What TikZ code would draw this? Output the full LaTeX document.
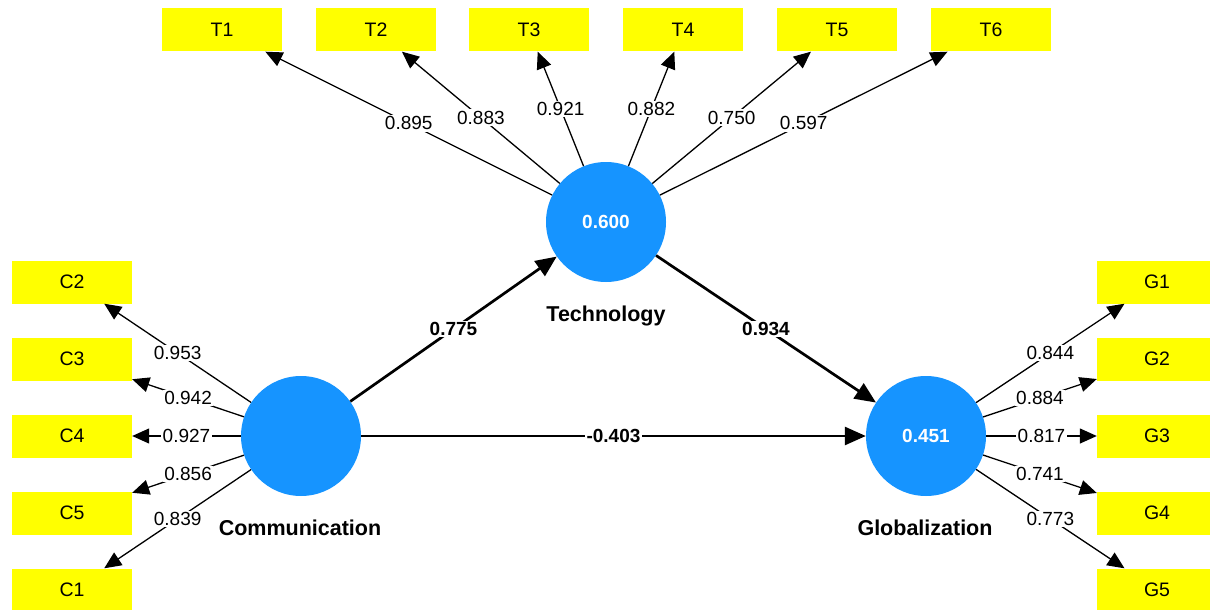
\documentclass[tikz,border=0pt]{standalone}
\usepackage{fontspec}
\setmainfont{Liberation Sans}
\usepackage{tikz}
\usetikzlibrary{arrows.meta, positioning}

\definecolor{itemyellow}{RGB}{255,255,0}
\definecolor{lvblue}{RGB}{22,148,255}

\begin{document}
\begin{tikzpicture}[x=1pt, y=-1pt,
  item/.style={fill=itemyellow, minimum width=120pt, minimum height=43pt, inner sep=0pt, font=\fontsize{19.5}{22}\selectfont},
  latent/.style={circle, fill=lvblue, minimum size=120pt, inner sep=0pt, text=white, font=\bfseries\fontsize{19}{22}\selectfont},
  lvname/.style={font=\bfseries\fontsize{21.5}{24}\selectfont},
  loading/.style={-{Triangle[length=17pt, width=15pt]}, line width=1.3pt},
  relation/.style={-{Triangle[length=21pt, width=18pt]}, line width=2.7pt},
  lab/.style={fill=white, inner sep=1.5pt, font=\fontsize{19}{22}\selectfont},
  blab/.style={lab, font=\bfseries\fontsize{19}{22}\selectfont}]

\useasboundingbox (0,0) rectangle (1210,610);

%//indicator boxes
\foreach \n/\x in {1/222, 2/376, 3/529, 4/683, 5/837, 6/991}
\node[item] (T\n) at (\x,30) {T\n};

\foreach \n/\y in {2/282, 3/359, 4/436, 5/513, 1/590}
\node[item] (C\n) at (72,\y) {C\n};

\foreach \n/\y in {1/282, 2/359, 3/436, 4/513, 5/590}
\node[item] (G\n) at (1157,\y) {G\n};

%//latent variables
\node[latent] (tech) at (606,222) {0.600};
\node[latent] (comm) at (301,436) {};
\node[latent] (glob) at (926,436) {0.451};

\node[lvname] (techname) at (606,316) {Technology};
\node[lvname] (commname) at (300,528) {Communication};
\node[lvname] (globname) at (925,528) {Globalization};

%//outer loadings
\foreach \n/\val in {1/0.895, 2/0.883, 3/0.921, 4/0.882, 5/0.750, 6/0.597}
\draw[loading] (tech) -- node[lab] {\val} (T\n);

\foreach \n/\val in {2/0.953, 3/0.942, 4/0.927, 5/0.856, 1/0.839}
\draw[loading] (comm) -- node[lab] {\val} (C\n);

\foreach \n/\val in {1/0.844, 2/0.884, 3/0.817, 4/0.741, 5/0.773}
\draw[loading] (glob) -- node[lab] {\val} (G\n);

%//path coefficients
\draw[relation] (comm) -- node[blab] {0.775} (tech);
\draw[relation] (tech) -- node[blab] {0.934} (glob);
\draw[relation] (comm) -- node[blab] {-0.403} (glob);

\end{tikzpicture}
\end{document}
